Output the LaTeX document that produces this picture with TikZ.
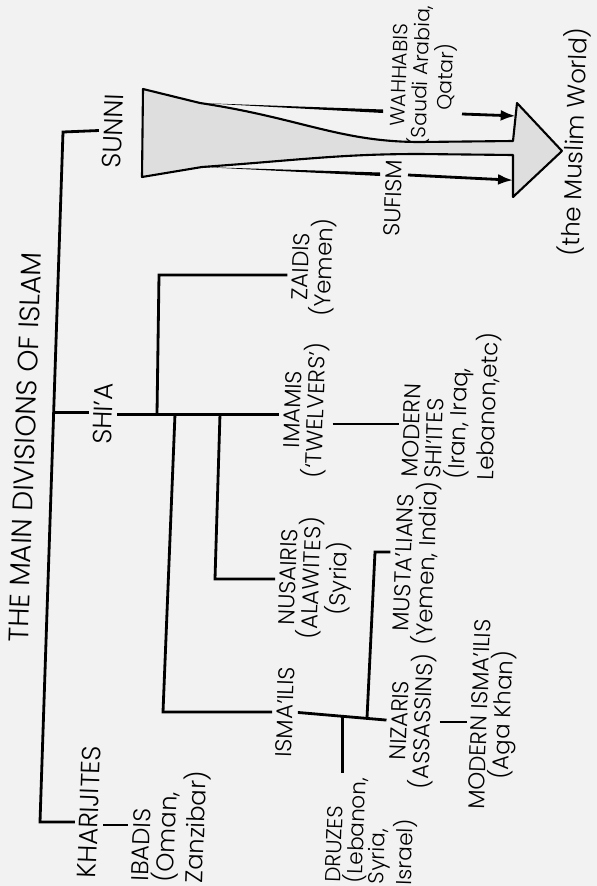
\documentclass[tikz,border=0pt]{standalone}
\usepackage{fontspec}
\setmainfont{Poppins Light}
\usetikzlibrary{calc}
\usetikzlibrary{arrows.meta}

\tikzset{
  sect/.style = {rotate=88, inner sep=2.5pt, align=center, font=\fontsize{13}{13.2}\selectfont},
  bigsect/.style = {sect, font=\fontsize{15}{15.5}\selectfont},
  smallsect/.style = {sect, font=\fontsize{12.3}{12.3}\selectfont},
  branch/.style = {line width=1.6pt},
  feed/.style = {line width=1.6pt, -{Latex[length=0.3cm, width=0.22cm]}},
}

\begin{document}
\begin{tikzpicture}[x=0.02cm, y=-0.02cm]

	% page
	\fill [black!5] (0,0) rectangle (597,886);
	\useasboundingbox (0,0) rectangle (597,886);

	% title
	\node [sect, font=\fontsize{16}{16}\selectfont] (title) at (25,447) {THE MAIN DIVISIONS OF ISLAM};

	% the three first branches
	\node [bigsect] (sunni) at (113,131) {SUNNI};
	\node [bigsect] (shia) at (103,414) {SHI’A};
	\node [bigsect] (kharijites) at (89,812) {KHARIJITES};
	\node [sect, align=left, font=\fontsize{13.8}{14.5}\selectfont] (ibadis) at (171,826) {IBADIS\\(Oman,\\Zanzibar)};

	% Shi'a sects
	\node [sect] (zaidis) at (314,267) {ZAIDIS\\(Yemen)};
	\node [sect] (imamis) at (306,410) {IMAMIS\\(‘TWELVERS’)};
	\node [sect, align=left] (modshiites) at (452,405) {MODERN\\SHI’ITES\\(Iran, Iraq,\\Lebanon,etc)};
	\node [sect] (nusairis) at (316,578) {NUSAIRIS\\(ALAWITES)\\(Syria)};
	\node [sect] (ismailis) at (285,712) {ISMA’ILIS};
	\node [sect] (mustalians) at (417,563) {MUSTA’LIANS\\(Yemen, India)};
	\node [sect] (nizaris) at (413,721) {NIZARIS\\(ASSASSINS)};
	\node [sect] (modismailis) at (494,715) {MODERN ISMA’ILIS\\(Aga Khan)};
	\node [smallsect, align=left] (druzes) at (372,831) {DRUZES\\(Lebanon,\\Syria,\\Israel)};

	% Sunni side
	\node [smallsect, font=\fontsize{11.6}{12.3}\selectfont] (wahhabis) at (424,76) {WAHHABIS\\(Saudi Arabia,\\Qatar)};
	\node [sect] (sufism) at (393,198) {SUFISM};
	\node [sect, inner sep=0pt, font=\fontsize{14}{14}\selectfont] (world) at (574,142) {(the Muslim World)};

	% trunk
	\coordinate (trunkTop) at (63,132);
	\coordinate (trunkBot) at (40,822);
	\coordinate (shiaJ) at ($(trunkTop)!0.407!(trunkBot)$);
	\draw [branch] (sunni.north) -- (trunkTop) -- (trunkBot) -- (trunkBot -| kharijites.north);
	\draw [branch] (shiaJ) -- (shiaJ -| shia.north);
	\coordinate (ibadisJ) at (100,825);
	\draw [branch] (ibadisJ -| kharijites.south) -- (ibadisJ -| ibadis.north);

	% Shi'a line and its branches
	\draw [branch] (shia.south) -- (shia.south -| imamis.north);
	\coordinate (zaidiB) at (157,414);
	\coordinate (zaidiC) at (159,275);
	\coordinate (ismaB) at (175,414);
	\coordinate (ismaC) at (163,712);
	\coordinate (nusaB) at (220,414);
	\coordinate (nusaC) at (215,579);
	\draw [branch] (zaidiB) -- (zaidiC) -- (zaidiC -| zaidis.north);
	\draw [branch] (ismaB) -- (ismaC) -- (ismaC -| ismailis.north);
	\draw [branch] (nusaB) -- (nusaC) -- (nusaC -| nusairis.north);
	\coordinate (imamJ) at (330,424);
	\draw [branch] (imamJ -| imamis.south) -- (imamJ -| modshiites.north);

	% Isma'ilis
	\draw [branch] (ismailis.south) -- (nizaris.north);
	\coordinate (druzeJ) at ($(ismailis.south)!0.5!(nizaris.north)$);
	\coordinate (mustaJ) at ($(ismailis.south)!0.78!(nizaris.north)$);
	\coordinate (mustaC) at (375,552);
	\draw [branch] (druzeJ) -- (druzeJ |- druzes.east);
	\draw [branch] (mustaJ) -- (mustaC) -- (mustaC -| mustalians.north);
	\draw [branch] (nizaris.south) -- (nizaris.south -| modismailis.north);

	% funnel into the big arrow
	\coordinate (funTL) at (143,89);
	\coordinate (funBL) at (142,177);
	\coordinate (wahJ) at (200,103);
	\coordinate (sufJ) at (202,167);
	\coordinate (shaftTL) at (420,142);
	\coordinate (shaftBL) at (420,154);
	\coordinate (shaftT) at (513,141);
	\coordinate (shaftB) at (513,155);
	\coordinate (headT) at (517,103);
	\coordinate (headB) at (513,197);
	\coordinate (headTip) at (562,151);
	\filldraw [fill=black!13, line width=1.2pt, line join=round] (funTL) -- (wahJ) .. controls (300,118) and (340,142) .. (shaftTL) -- (shaftT) -- (headT) -- (headTip) -- (headB) -- (shaftB) -- (shaftBL) .. controls (340,154) and (300,160) .. (sufJ) -- (funBL) -- cycle;

	% Wahhabis and Sufism
	\fill (wahJ) -- (383,109.5) -- (383,113) -- cycle;
	\fill (sufJ) -- (380,172.5) -- (380,176) -- cycle;
	\coordinate (wahOut) at (462,114);
	\coordinate (sufOut) at (408,175);
	\draw [feed] (wahOut) -- ($(headT)!0.34!(shaftT)$);
	\draw [feed] (sufOut) -- ($(shaftB)!0.6!(headB)$);

\end{tikzpicture}
\end{document}
